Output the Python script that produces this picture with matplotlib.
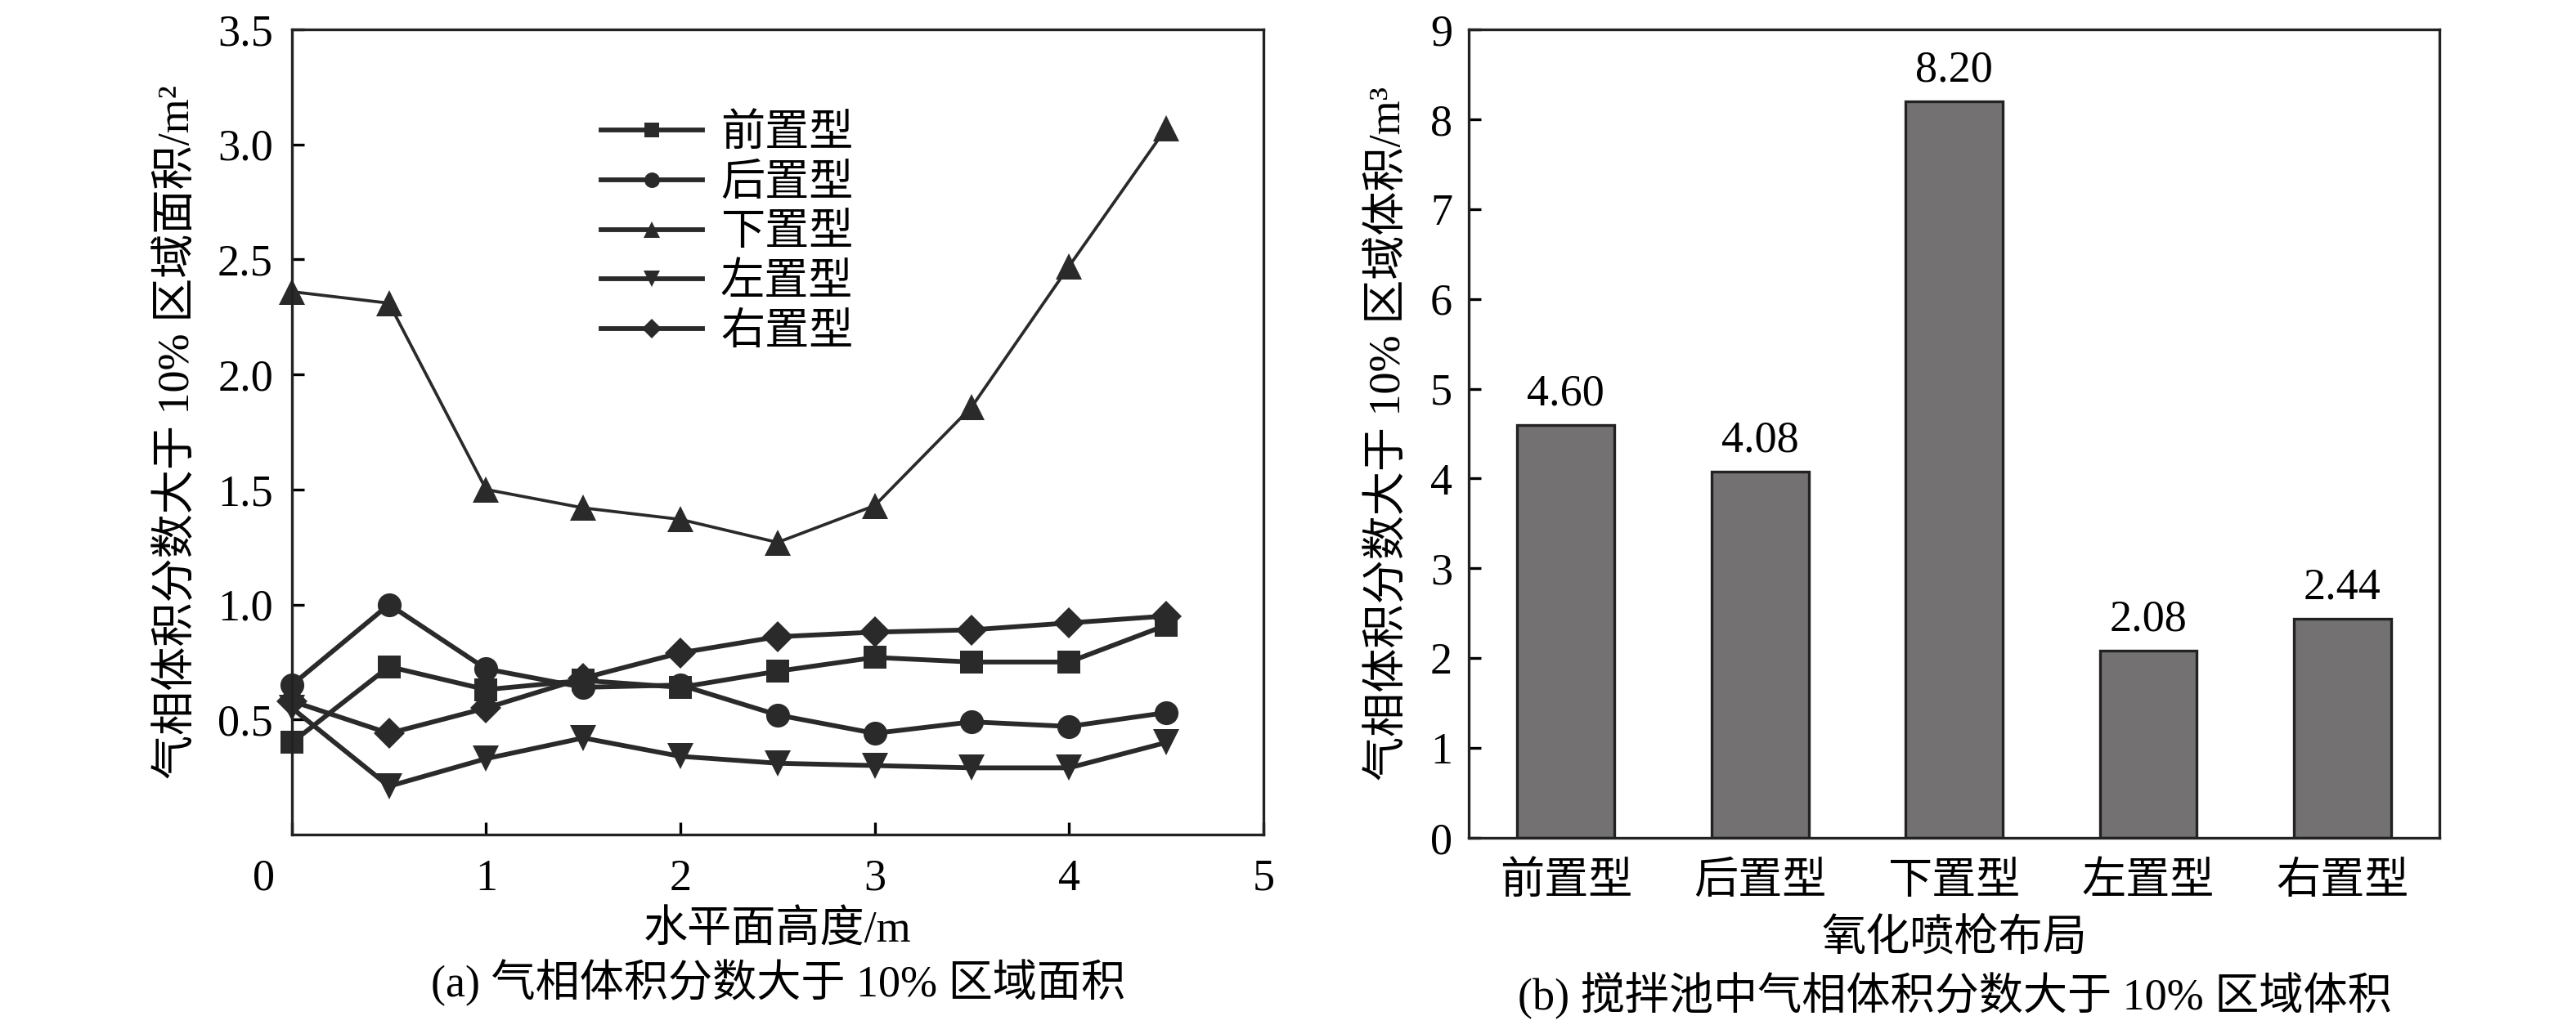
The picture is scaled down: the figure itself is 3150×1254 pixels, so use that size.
import numpy as np
import matplotlib
matplotlib.use("Agg")
import matplotlib.pyplot as plt
from matplotlib.transforms import ScaledTranslation

plt.rcParams['font.family'] = ['Liberation Serif', 'Noto Sans CJK SC']
plt.rcParams['font.size'] = 13
plt.rcParams['axes.unicode_minus'] = False

# ------------------------------------------------------------
# (a) area data
# ------------------------------------------------------------
heights = [0.0, 0.5, 1.0, 1.5, 2.0, 2.5, 3.0, 3.5, 4.0, 4.5]
front = [0.40, 0.73, 0.63, 0.67, 0.64, 0.71, 0.77, 0.75, 0.75, 0.91]
back = [0.65, 1.00, 0.72, 0.64, 0.65, 0.52, 0.44, 0.49, 0.47, 0.53]
bottom = [2.36, 2.31, 1.50, 1.42, 1.37, 1.27, 1.43, 1.86, 2.47, 3.07]
left = [0.55, 0.21, 0.33, 0.42, 0.34, 0.31, 0.30, 0.29, 0.29, 0.40]
right = [0.58, 0.44, 0.55, 0.68, 0.79, 0.86, 0.88, 0.89, 0.92, 0.95]

# ------------------------------------------------------------
# (b) volume data
# ------------------------------------------------------------
layouts = ["前置型", "后置型", "下置型", "左置型", "右置型"]
volumes = [4.60, 4.08, 8.20, 2.08, 2.44]
volume_labels = ["4.60", "4.08", "8.20", "2.08", "2.44"]

LINE = "#2b2a2b"
BAR = "#737172"

fig = plt.figure(figsize=(10.5, 4.18), dpi=300)
ax1 = fig.add_axes([0.1133, 0.1858, 0.3771, 0.7855])
ax2 = fig.add_axes([0.5702, 0.1826, 0.3768, 0.7887])

# ------------------------------------------------------------
# left panel
# ------------------------------------------------------------
series = [
    (front, "s", "前置型", 1.4, 6.5),
    (back, "o", "后置型", 1.4, 7.0),
    (bottom, "^", "下置型", 0.9, 7.5),
    (left, "v", "左置型", 1.4, 7.5),
    (right, "D", "右置型", 1.4, 6.5),
]
for vals, mk, name, lw, ms in series:
    ax1.plot(heights, vals, color=LINE, marker=mk, markersize=ms, lw=lw,
             markeredgewidth=0, label=name, clip_on=False)

ax1.set_xlim(0, 5)
ax1.set_ylim(0, 3.5)
ax1.set_xticks([0, 1, 2, 3, 4, 5])
ax1.set_yticks([0.5, 1.0, 1.5, 2.0, 2.5, 3.0, 3.5])
ax1.set_yticklabels(["0.5", "1.0", "1.5", "2.0", "2.5", "3.0", "3.5"])
ax1.tick_params(direction="in", length=3.5, width=0.8, top=False, right=False)
ax1.tick_params(axis="x", pad=7)
ax1.tick_params(axis="y", pad=5.5)
lbl0 = ax1.xaxis.get_major_ticks()[0].label1
lbl0.set_transform(lbl0.get_transform() + ScaledTranslation(-34 / 300, 0, fig.dpi_scale_trans))

ax1.set_xlabel("水平面高度/m", va="center")
ax1.xaxis.set_label_coords(0.5, -0.12)
ax1.set_ylabel("气相体积分数大于 10% 区域面积/m²", va="center")
ax1.yaxis.set_label_coords(-0.117, 0.5)

leg = ax1.legend(loc="upper left", bbox_to_anchor=(0.318, 0.895), frameon=False,
                 borderpad=0, borderaxespad=0, handlelength=2.3, handletextpad=0.4,
                 labelspacing=0.19, markerscale=0.65)
for h in leg.get_lines():
    h.set_linewidth(1.4)

# ------------------------------------------------------------
# right panel
# ------------------------------------------------------------
pos = np.arange(len(layouts))
bars = ax2.bar(pos, volumes, width=0.5, color=BAR, edgecolor="#222222", linewidth=0.8)
ax2.bar_label(bars, labels=volume_labels, padding=3)
ax2.set_xlim(-0.5, 4.5)
ax2.set_ylim(0, 9)
ax2.set_yticks(range(0, 10))
ax2.set_xticks(pos)
ax2.set_xticklabels(layouts)
ax2.tick_params(axis="y", direction="in", length=3.5, width=0.8, pad=4.8)
ax2.tick_params(axis="x", length=0, pad=7)
ax2.set_xlabel("氧化喷枪布局", va="center")
ax2.xaxis.set_label_coords(0.5, -0.126)
ax2.set_ylabel("气相体积分数大于 10% 区域体积/m³", va="center")
ax2.yaxis.set_label_coords(-0.082, 0.5)

for ax in (ax1, ax2):
    for sp in ax.spines.values():
        sp.set_linewidth(0.8)
        sp.set_color("#222222")

fig.text(0.302, 0.0407, "(a) 气相体积分数大于 10% 区域面积", ha="center", va="center")
fig.text(0.7587, 0.0287, "(b) 搅拌池中气相体积分数大于 10% 区域体积", ha="center", va="center")

fig.savefig("out.png", dpi=300)
